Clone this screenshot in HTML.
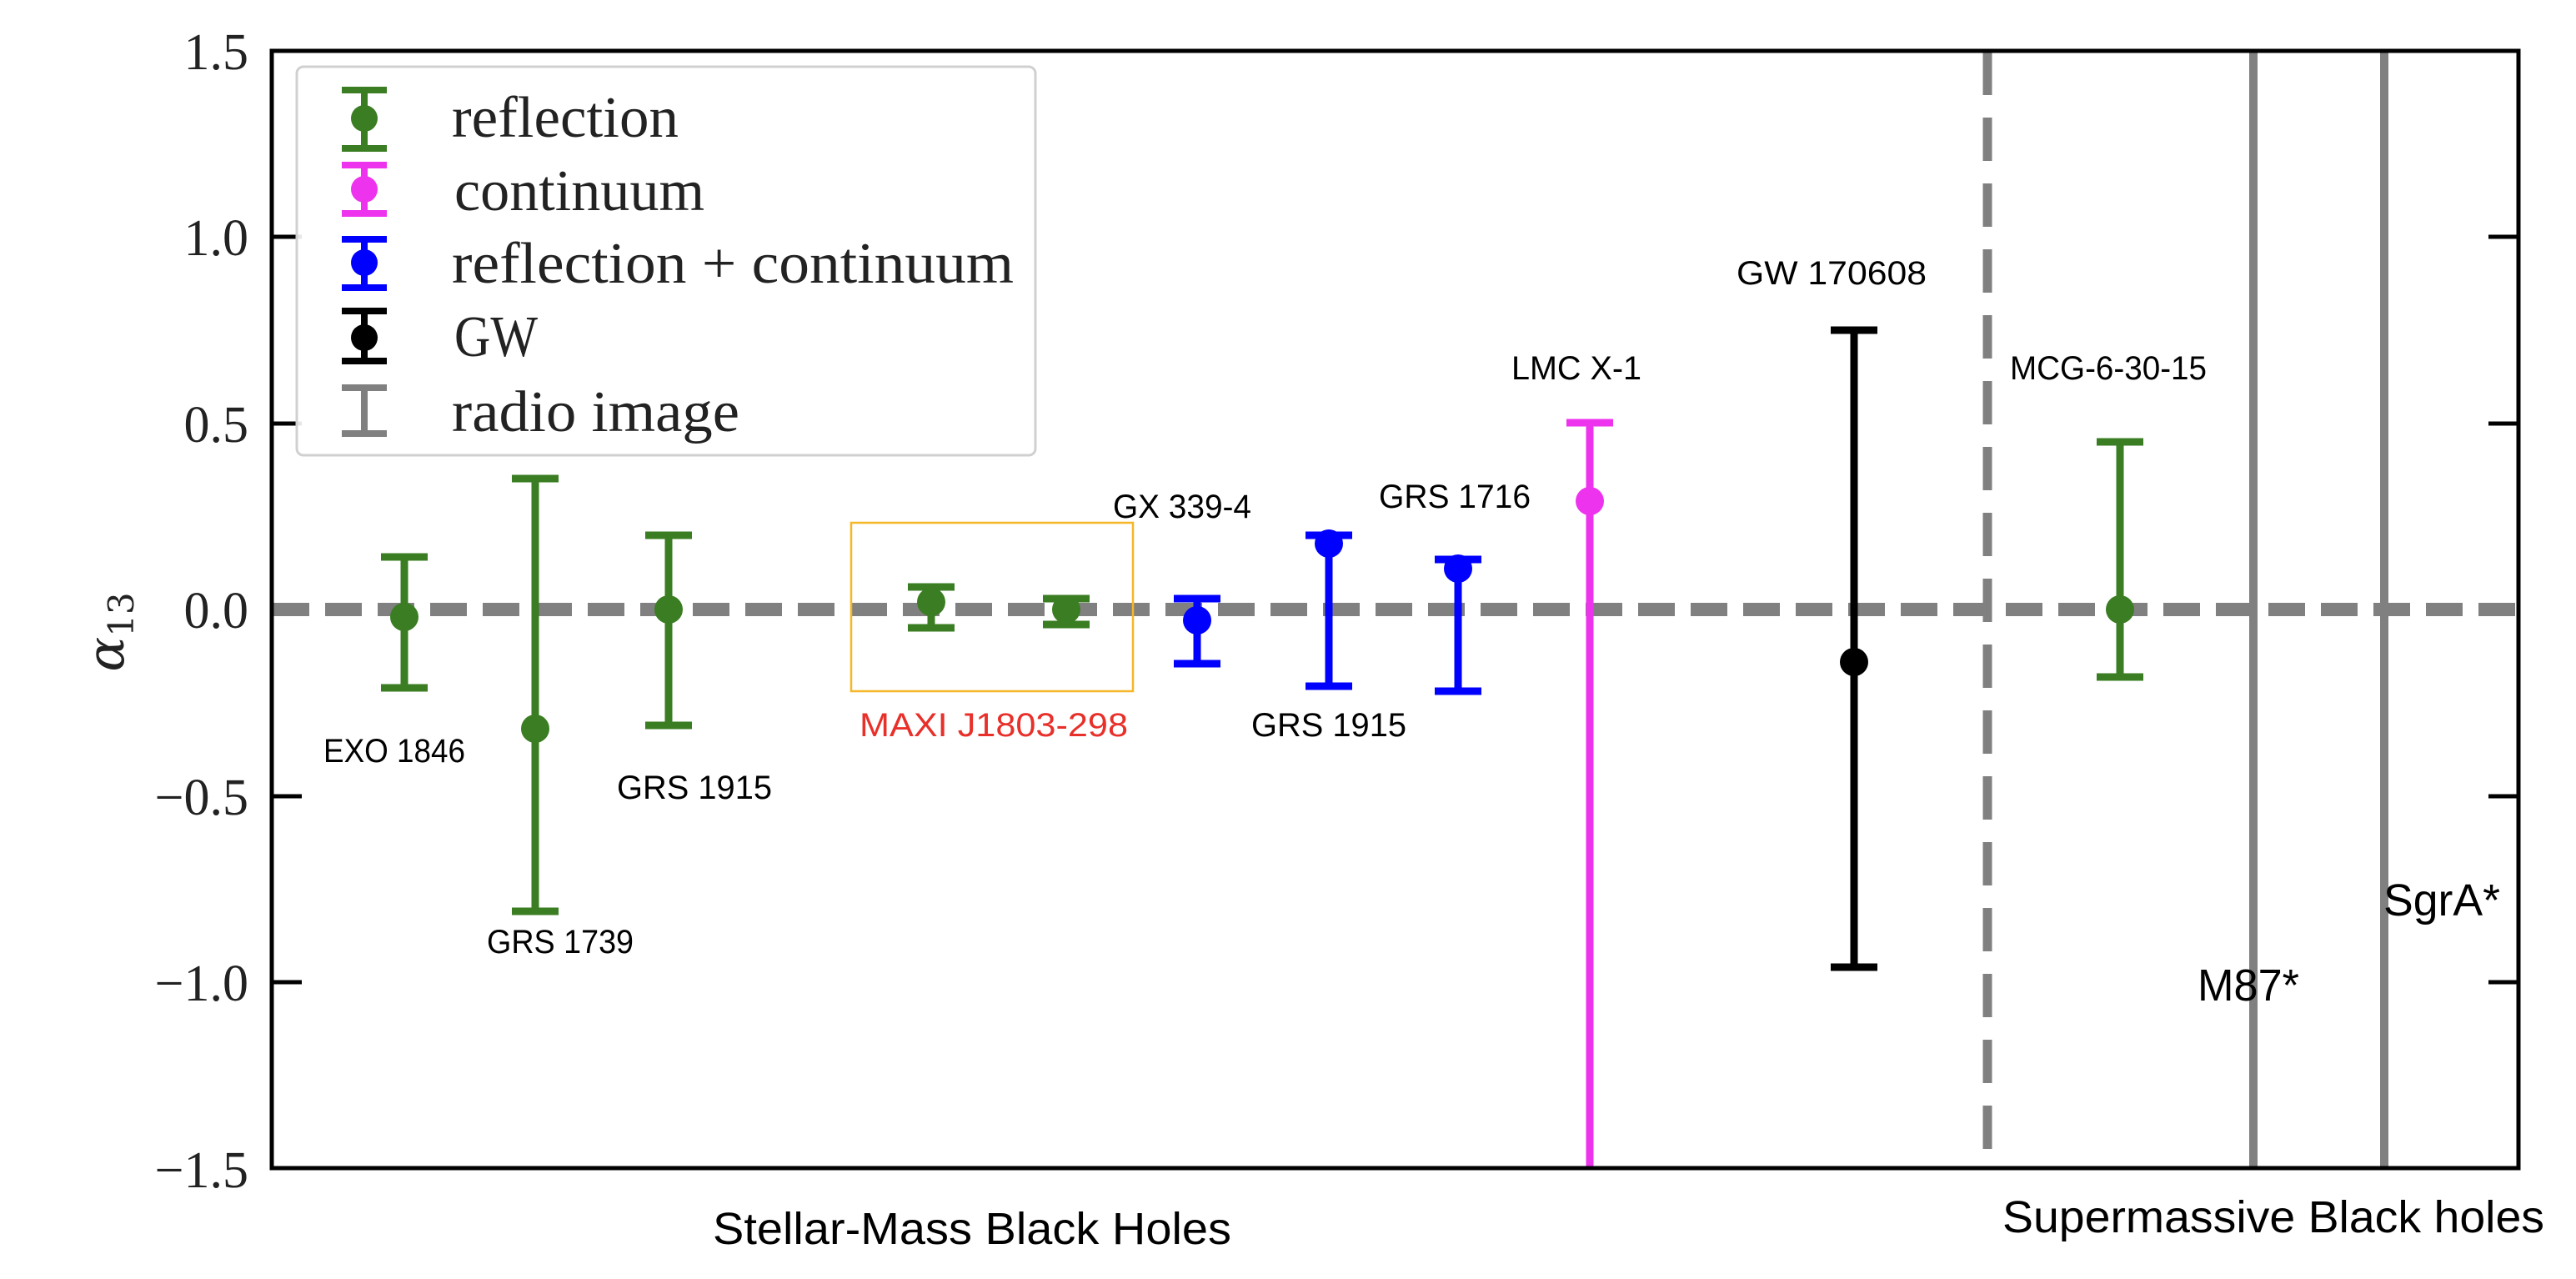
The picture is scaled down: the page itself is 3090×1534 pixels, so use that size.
<!DOCTYPE html>
<html><head><meta charset="utf-8"><style>
html,body{margin:0;padding:0;background:#fff;}
svg{display:block;}
</style></head><body>
<svg width="3090" height="1534" viewBox="0 0 3090 1534" xmlns="http://www.w3.org/2000/svg">
<rect width="3090" height="1534" fill="#fff"/>
<line x1="327" y1="731" x2="3020" y2="731" stroke="#808080" stroke-width="16" stroke-dasharray="44,19"/>
<line x1="2384" y1="62" x2="2384" y2="1400" stroke="#808080" stroke-width="11" stroke-dasharray="52,27"/>
<line x1="2703" y1="62" x2="2703" y2="1400" stroke="#808080" stroke-width="10"/>
<line x1="2860" y1="62" x2="2860" y2="1400" stroke="#808080" stroke-width="10"/>
<rect x="1021" y="627" width="338" height="202" fill="none" stroke="#f5b728" stroke-width="2.5"/>
<g stroke-width="9" stroke-linecap="butt">
<g stroke="#3a7d22" fill="#3a7d22">
 <line x1="485" y1="668" x2="485" y2="825"/><line x1="457" y1="668" x2="513" y2="668"/><line x1="457" y1="825" x2="513" y2="825"/><circle cx="485" cy="740" r="17" stroke="none"/>
 <line x1="642" y1="574" x2="642" y2="1093"/><line x1="614" y1="574" x2="670" y2="574"/><line x1="614" y1="1093" x2="670" y2="1093"/><circle cx="642" cy="874" r="17" stroke="none"/>
 <line x1="802" y1="642" x2="802" y2="870"/><line x1="774" y1="642" x2="830" y2="642"/><line x1="774" y1="870" x2="830" y2="870"/><circle cx="802" cy="731" r="17" stroke="none"/>
 <line x1="1117" y1="704" x2="1117" y2="753"/><line x1="1089" y1="704" x2="1145" y2="704"/><line x1="1089" y1="753" x2="1145" y2="753"/><circle cx="1117" cy="722" r="17" stroke="none"/>
 <line x1="1279" y1="718" x2="1279" y2="749"/><line x1="1251" y1="718" x2="1307" y2="718"/><line x1="1251" y1="749" x2="1307" y2="749"/><circle cx="1279" cy="731" r="17" stroke="none"/>
 <line x1="2543" y1="530" x2="2543" y2="812"/><line x1="2515" y1="530" x2="2571" y2="530"/><line x1="2515" y1="812" x2="2571" y2="812"/><circle cx="2543" cy="731" r="17" stroke="none"/>
</g>
<g stroke="#0000ff" fill="#0000ff">
 <line x1="1436" y1="718" x2="1436" y2="796"/><line x1="1408" y1="718" x2="1464" y2="718"/><line x1="1408" y1="796" x2="1464" y2="796"/><circle cx="1436" cy="744" r="17" stroke="none"/>
 <line x1="1594" y1="642" x2="1594" y2="823"/><line x1="1566" y1="642" x2="1622" y2="642"/><line x1="1566" y1="823" x2="1622" y2="823"/><circle cx="1594" cy="652" r="17" stroke="none"/>
 <line x1="1749" y1="671" x2="1749" y2="829"/><line x1="1721" y1="671" x2="1777" y2="671"/><line x1="1721" y1="829" x2="1777" y2="829"/><circle cx="1749" cy="682" r="17" stroke="none"/>
</g>
<g stroke="#ee33ee" fill="#ee33ee">
 <line x1="1907" y1="507" x2="1907" y2="1402"/><line x1="1879" y1="507" x2="1935" y2="507"/><circle cx="1907" cy="601" r="17" stroke="none"/>
</g>
<g stroke="#000" fill="#000">
 <line x1="2224" y1="396" x2="2224" y2="1160"/><line x1="2196" y1="396" x2="2252" y2="396"/><line x1="2196" y1="1160" x2="2252" y2="1160"/><circle cx="2224" cy="794" r="17" stroke="none"/>
</g>
</g>
<rect x="326" y="61" width="2695" height="1340" fill="none" stroke="#000" stroke-width="5"/>
<g stroke="#000" stroke-width="5">
 <line x1="326" y1="284" x2="362" y2="284"/><line x1="326" y1="508" x2="362" y2="508"/><line x1="326" y1="955" x2="362" y2="955"/><line x1="326" y1="1178" x2="362" y2="1178"/>
 <line x1="2985" y1="284" x2="3021" y2="284"/><line x1="2985" y1="508" x2="3021" y2="508"/><line x1="2985" y1="955" x2="3021" y2="955"/><line x1="2985" y1="1178" x2="3021" y2="1178"/>
</g>
<g font-family="Liberation Serif, serif" font-size="62" fill="#222" text-anchor="end">
 <text x="298" y="83">1.5</text><text x="298" y="306">1.0</text><text x="298" y="530">0.5</text><text x="298" y="753">0.0</text>
 <text x="298" y="977">−0.5</text><text x="298" y="1200">−1.0</text><text x="298" y="1424">−1.5</text>
</g>
<text x="128" y="778" font-family="DejaVu Serif, serif" font-style="italic" font-size="62" fill="#222" transform="rotate(-90 128 758)" text-anchor="middle">α<tspan font-size="42" font-style="normal" dy="12">13</tspan></text>
<rect x="356" y="80" width="886" height="466" rx="8" fill="#fff" fill-opacity="0.9" stroke="#d0d0d0" stroke-width="3"/>
<g stroke-width="8">
 <g stroke="#3a7d22" fill="#3a7d22"><line x1="437" y1="108" x2="437" y2="178"/><line x1="410" y1="108" x2="464" y2="108"/><line x1="410" y1="178" x2="464" y2="178"/><circle cx="437" cy="142" r="16" stroke="none"/></g>
 <g stroke="#ee33ee" fill="#ee33ee"><line x1="437" y1="198" x2="437" y2="256"/><line x1="410" y1="198" x2="464" y2="198"/><line x1="410" y1="256" x2="464" y2="256"/><circle cx="437" cy="227" r="16" stroke="none"/></g>
 <g stroke="#0000ff" fill="#0000ff"><line x1="437" y1="287" x2="437" y2="345"/><line x1="410" y1="287" x2="464" y2="287"/><line x1="410" y1="345" x2="464" y2="345"/><circle cx="437" cy="315" r="16" stroke="none"/></g>
 <g stroke="#000" fill="#000"><line x1="437" y1="373" x2="437" y2="433"/><line x1="410" y1="373" x2="464" y2="373"/><line x1="410" y1="433" x2="464" y2="433"/><circle cx="437" cy="405" r="16" stroke="none"/></g>
 <g stroke="#808080"><line x1="437" y1="465" x2="437" y2="520"/><line x1="410" y1="465" x2="464" y2="465"/><line x1="410" y1="520" x2="464" y2="520"/></g>
</g>
<g font-family="Liberation Serif, serif" font-size="70" fill="#222">
 <text x="542" y="164" textLength="272" lengthAdjust="spacingAndGlyphs">reflection</text>
 <text x="545" y="252" textLength="300" lengthAdjust="spacingAndGlyphs">continuum</text>
 <text x="542" y="339" textLength="674" lengthAdjust="spacingAndGlyphs">reflection + continuum</text>
 <text x="545" y="427" textLength="100" lengthAdjust="spacingAndGlyphs">GW</text>
 <text x="542" y="517" textLength="345" lengthAdjust="spacingAndGlyphs">radio image</text>
</g>
<g font-family="Liberation Sans, sans-serif" font-size="40" fill="#000" text-anchor="middle">
 <text x="473" y="914" textLength="170" lengthAdjust="spacingAndGlyphs">EXO 1846</text>
 <text x="672" y="1143" textLength="176" lengthAdjust="spacingAndGlyphs">GRS 1739</text>
 <text x="833" y="958" textLength="186" lengthAdjust="spacingAndGlyphs">GRS 1915</text>
 <text x="1192" y="883" fill="#e8302a" textLength="322" lengthAdjust="spacingAndGlyphs">MAXI J1803-298</text>
 <text x="1418" y="621" textLength="166" lengthAdjust="spacingAndGlyphs">GX 339-4</text>
 <text x="1594" y="883" textLength="186" lengthAdjust="spacingAndGlyphs">GRS 1915</text>
 <text x="1745" y="609" textLength="182" lengthAdjust="spacingAndGlyphs">GRS 1716</text>
 <text x="1891" y="455" textLength="156" lengthAdjust="spacingAndGlyphs">LMC X-1</text>
 <text x="2197" y="341" textLength="228" lengthAdjust="spacingAndGlyphs">GW 170608</text>
 <text x="2529" y="455" textLength="236" lengthAdjust="spacingAndGlyphs">MCG-6-30-15</text>
</g>
<g font-family="Liberation Sans, sans-serif" font-size="54" fill="#000" text-anchor="middle">
 <text x="2697" y="1200" textLength="122" lengthAdjust="spacingAndGlyphs">M87*</text>
 <text x="2929" y="1098" textLength="140" lengthAdjust="spacingAndGlyphs">SgrA*</text>
 <text x="1166" y="1492" textLength="622" lengthAdjust="spacingAndGlyphs">Stellar-Mass Black Holes</text>
 <text x="2727" y="1478" textLength="650" lengthAdjust="spacingAndGlyphs">Supermassive Black holes</text>
</g>
</svg>
</body></html>
